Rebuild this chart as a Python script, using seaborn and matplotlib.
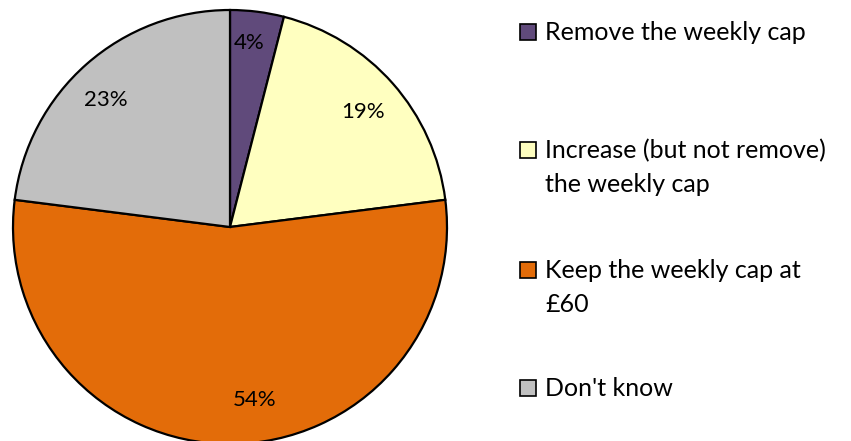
import matplotlib
matplotlib.use("Agg")
import matplotlib.pyplot as plt
from matplotlib.patches import Rectangle
import seaborn as sns

# Survey responses on the weekly cap
categories = [
    "Remove the weekly cap",
    "Increase (but not remove)\nthe weekly cap",
    "Keep the weekly cap at\n£60",
    "Don't know",
]
shares = [4, 19, 54, 23]
pct_labels = ["4%", "19%", "54%", "23%"]
colors = ["#604A7B", "#FFFFC0", "#E36C09", "#C0C0C0"]

sns.set_theme(style="white")
plt.rcParams["font.family"] = ["Lato", "DejaVu Sans"]

W, H = 851, 441
fig = plt.figure(figsize=(W / 100, H / 100), dpi=100)
fig.patch.set_facecolor("white")

# pie centre (230, 227) px, radius 217 px
cx, cy, r = 230, 227, 217
ax = fig.add_axes([(cx - r) / W, (H - cy - r) / H, 2 * r / W, 2 * r / H])
wedges, _ = ax.pie(
    shares,
    colors=colors,
    startangle=90,
    counterclock=False,
    radius=1.0,
    wedgeprops=dict(edgecolor="black", linewidth=1.6),
)
ax.set_xlim(-1, 1)
ax.set_ylim(-1, 1)
ax.set_aspect("equal")
ax.axis("off")
for w in wedges:
    w.set_clip_on(False)

# percentage labels placed inside each slice
label_pos = [(0.09, 0.85), (0.613, 0.53), (0.113, -0.797), (-0.571, 0.583)]
for (x, y), t in zip(label_pos, pct_labels):
    ax.text(x, y, t, ha="center", va="center", fontsize=16, color="black")

# legend drawn at the right
rows = [32, 150, 270, 388]
sw = 16
for yc, lab, col in zip(rows, categories, colors):
    fig.patches.append(
        Rectangle(((520) / W, (H - yc - sw / 2) / H), sw / W, sw / H,
                  transform=fig.transFigure, facecolor=col,
                  edgecolor="black", linewidth=1.2)
    )
    fig.text(545 / W, (H - yc - 1) / H, lab.split("\n")[0],
             ha="left", va="center", fontsize=18, color="black")
    if "\n" in lab:
        fig.text(545 / W, (H - yc - 35) / H, lab.split("\n")[1],
                 ha="left", va="center", fontsize=18, color="black")

fig.savefig("out.png", dpi=100, facecolor="white")
